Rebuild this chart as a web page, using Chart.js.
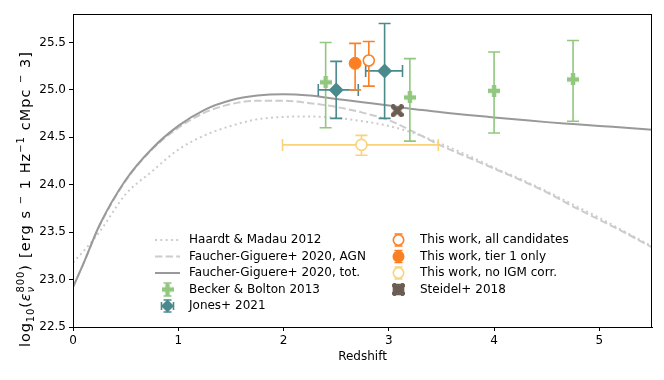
<!DOCTYPE html>
<html><head><meta charset="utf-8">
<script src="https://cdn.jsdelivr.net/npm/chart.js@4/dist/chart.umd.min.js"></script>
<style>html,body{margin:0;padding:0;background:#fff}#wrap{width:664px;height:380px;position:relative}</style>
</head><body><div id="wrap"><canvas id="c" width="664" height="380"></canvas></div>
<script>
// ---- data ----
const zModel = [0, 0.1, 0.25, 0.5, 0.75, 1.0, 1.25, 1.5, 1.75, 2.0, 2.25, 2.5, 2.75, 3.0, 3.25, 3.5, 3.75, 4.0, 4.25, 4.5, 4.75, 5.0, 5.25, 5.5];
const hm12  = [23.18, 23.30, 23.50, 23.90, 24.14, 24.37, 24.52, 24.62, 24.69, 24.715, 24.72, 24.705, 24.67, 24.62, 24.54, 24.43, 24.31, 24.18, 24.06, 23.93, 23.79, 23.65, 23.50, 23.35];
const fgAgn = [22.92, 23.17, 23.56, 24.04, 24.37, 24.60, 24.76, 24.85, 24.885, 24.885, 24.86, 24.82, 24.76, 24.68, 24.55, 24.41, 24.29, 24.17, 24.05, 23.92, 23.77, 23.63, 23.49, 23.34];
const fgTot = [22.92, 23.17, 23.57, 24.05, 24.38, 24.62, 24.79, 24.89, 24.94, 24.955, 24.94, 24.905, 24.87, 24.835, 24.795, 24.765, 24.735, 24.71, 24.685, 24.66, 24.64, 24.62, 24.60, 24.58];

const beckerZ   = [2.4, 3.2, 4.0, 4.75];
const beckerVal = [25.08, 24.92, 24.99, 25.11];
const beckerLo  = [24.60, 24.46, 24.545, 24.67];
const beckerHi  = [25.50, 25.33, 25.40, 25.52];

const jonesZ    = [2.5, 2.96];
const jonesZLo  = [2.33, 2.78];
const jonesZHi  = [2.71, 3.13];
const jonesVal  = [25.0, 25.2];
const jonesLo   = [24.70, 24.70];
const jonesHi   = [25.30, 25.70];

const allZ   = [2.81];
const allVal = [25.31];
const allLo  = [25.04];
const allHi  = [25.51];

const tier1Z   = [2.68];
const tier1Val = [25.28];
const tier1Lo  = [25.00];
const tier1Hi  = [25.49];

const noIgmZ   = [2.74];
const noIgmZLo = [1.99];
const noIgmZHi = [3.47];
const noIgmVal = [24.42];
const noIgmLo  = [24.31];
const noIgmHi  = [24.52];

const steidelZ   = [3.08];
const steidelVal = [24.78];

const xTicks = [0, 1, 2, 3, 4, 5];
const yTicks = [22.5, 23.0, 23.5, 24.0, 24.5, 25.0, 25.5];

// ---- styles ----
const FONT = '"DejaVu Sans", "Liberation Sans", sans-serif';
const FS = 12;
const C_GREEN = '#91c77f', C_TEAL = '#4a8a8d', C_ORANGE = '#fb8023', C_YELLOW = '#f9d27a', C_BROWN = '#6b5d52';
const C_DARK = '#999999', C_LIGHT = '#cccccc';

function plusMarker(color, size, thick) {
  const c = document.createElement('canvas'); c.width = size; c.height = size;
  const g = c.getContext('2d'); g.fillStyle = color;
  const a = (size - thick) / 2;
  g.fillRect(a, 0, thick, size); g.fillRect(0, a, size, thick);
  return c;
}
function xMarker(color, size, thick) {
  const c = document.createElement('canvas'); c.width = size; c.height = size;
  const g = c.getContext('2d'); g.fillStyle = color;
  g.translate(size / 2, size / 2); g.rotate(Math.PI / 4);
  const L = size * 0.62, t = thick / 2;
  g.fillRect(-L, -t, 2 * L, thick); g.fillRect(-t, -L, thick, 2 * L);
  return c;
}
const mPlus = plusMarker(C_GREEN, 12, 4.4);
const mX = xMarker(C_BROWN, 13, 4.8);

const pts = (xs, ys) => xs.map((x, i) => ({ x: x, y: ys[i] }));

const datasets = [
  { label: 'Haardt & Madau 2012', data: pts(zModel, hm12), showLine: true, pointRadius: 0, borderColor: C_LIGHT, borderWidth: 2, borderDash: [2, 3.3], cubicInterpolationMode: 'monotone' },
  { label: 'Faucher-Giguere+ 2020, AGN', data: pts(zModel, fgAgn), showLine: true, pointRadius: 0, borderColor: C_LIGHT, borderWidth: 2, borderDash: [7.4, 3.2], cubicInterpolationMode: 'monotone' },
  { label: 'Faucher-Giguere+ 2020, tot.', data: pts(zModel, fgTot), showLine: true, pointRadius: 0, borderColor: C_DARK, borderWidth: 2, cubicInterpolationMode: 'monotone' },
  { label: 'Becker & Bolton 2013', data: pts(beckerZ, beckerVal), pointStyle: mPlus, pointRadius: 6, err: { lo: beckerLo, hi: beckerHi, color: C_GREEN } },
  { label: 'Jones+ 2021', data: pts(jonesZ, jonesVal), pointStyle: 'rectRot', pointRadius: 7.5, backgroundColor: C_TEAL, borderColor: C_TEAL, borderWidth: 0, err: { lo: jonesLo, hi: jonesHi, xlo: jonesZLo, xhi: jonesZHi, color: C_TEAL } },
  { label: 'This work, tier 1 only', data: pts(tier1Z, tier1Val), pointStyle: 'circle', pointRadius: 6, backgroundColor: C_ORANGE, borderColor: C_ORANGE, borderWidth: 1, err: { lo: tier1Lo, hi: tier1Hi, color: C_ORANGE } },
  { label: 'This work, all candidates', data: pts(allZ, allVal), pointStyle: 'circle', pointRadius: 5.5, backgroundColor: '#ffffff', borderColor: C_ORANGE, borderWidth: 1.6, err: { lo: allLo, hi: allHi, color: C_ORANGE } },
  { label: 'This work, no IGM corr.', data: pts(noIgmZ, noIgmVal), pointStyle: 'circle', pointRadius: 5.5, backgroundColor: '#ffffff', borderColor: C_YELLOW, borderWidth: 1.6, err: { lo: noIgmLo, hi: noIgmHi, xlo: noIgmZLo, xhi: noIgmZHi, color: C_YELLOW } },
  { label: 'Steidel+ 2018', data: pts(steidelZ, steidelVal), pointStyle: mX, pointRadius: 7 }
];
datasets.forEach((d, i) => { d.order = datasets.length - i; });

const errPlugin = {
  id: 'errbars',
  beforeDatasetDraw(chart, args) {
    const ds = chart.data.datasets[args.index];
    if (!ds.err) return;
    const e = ds.err, xs = chart.scales.x, ys = chart.scales.y, ctx = chart.ctx;
    ctx.save();
    ctx.strokeStyle = e.color; ctx.lineWidth = 1.6; ctx.lineCap = 'butt';
    const cap = 6;
    ds.data.forEach((p, i) => {
      const px = xs.getPixelForValue(p.x), py = ys.getPixelForValue(p.y);
      ctx.beginPath();
      if (e.lo) {
        const y1 = ys.getPixelForValue(e.lo[i]), y2 = ys.getPixelForValue(e.hi[i]);
        ctx.moveTo(px, y1); ctx.lineTo(px, y2);
        ctx.moveTo(px - cap, y1); ctx.lineTo(px + cap, y1);
        ctx.moveTo(px - cap, y2); ctx.lineTo(px + cap, y2);
      }
      if (e.xlo) {
        const x1 = xs.getPixelForValue(e.xlo[i]), x2 = xs.getPixelForValue(e.xhi[i]);
        ctx.moveTo(x1, py); ctx.lineTo(x2, py);
        ctx.moveTo(x1, py - cap); ctx.lineTo(x1, py + cap);
        ctx.moveTo(x2, py - cap); ctx.lineTo(x2, py + cap);
      }
      ctx.stroke();
    });
    ctx.restore();
  }
};

function legendErr(ctx, x, y, color, hx, vy) {
  ctx.save(); ctx.strokeStyle = color; ctx.lineWidth = 1.6;
  ctx.beginPath();
  if (vy) { ctx.moveTo(x, y - vy); ctx.lineTo(x, y + vy); ctx.moveTo(x - 4, y - vy); ctx.lineTo(x + 4, y - vy); ctx.moveTo(x - 4, y + vy); ctx.lineTo(x + 4, y + vy); }
  if (hx) { ctx.moveTo(x - hx, y); ctx.lineTo(x + hx, y); ctx.moveTo(x - hx, y - 4); ctx.lineTo(x - hx, y + 4); ctx.moveTo(x + hx, y - 4); ctx.lineTo(x + hx, y + 4); }
  ctx.stroke(); ctx.restore();
}

// draw [text, size, dy, italic, stacked] pieces between start and end, with uniform character tracking
function drawPieces(ctx, pieces, start, end) {
  const glyphs = [];
  pieces.forEach(p => {
    const font = (p[3] ? 'italic ' : '') + p[1] + 'px ' + FONT;
    ctx.font = font;
    if (p[4]) { glyphs.push({ t: p[0], font: font, dy: p[2], w: 0, stacked: true, pw: ctx.measureText(p[0]).width }); return; }
    for (const ch of p[0]) glyphs.push({ t: ch, font: font, dy: p[2], w: ctx.measureText(ch).width });
  });
  const real = glyphs.filter(g => !g.stacked);
  const total = real.reduce((a, g) => a + g.w, 0);
  const extra = real.length > 1 ? Math.max(0, (end - start - total) / (real.length - 1)) : 0;
  let x = start, groupStart = start, lastFont = null;
  glyphs.forEach(g => {
    ctx.font = g.font;
    if (g.stacked) { ctx.fillText(g.t, groupStart, g.dy); return; }
    if (g.font !== lastFont) { groupStart = x; lastFont = g.font; }
    ctx.fillText(g.t, x, g.dy);
    x += g.w + extra;
  });
}

const decoPlugin = {
  id: 'deco',
  afterDraw(chart) {
    const ctx = chart.ctx, a = chart.chartArea;
    ctx.save();
    ctx.strokeStyle = '#000'; ctx.lineWidth = 1;
    ctx.strokeRect(Math.round(a.left) + 0.5, Math.round(a.top) + 0.5, Math.round(a.right - a.left) - 1, Math.round(a.bottom - a.top));
    // legend
    ctx.font = FS + 'px ' + FONT; ctx.fillStyle = '#000'; ctx.textBaseline = 'middle'; ctx.textAlign = 'left';
    const rows = [240, 256.5, 273, 289.5, 306];
    const hx0 = 155, hx1 = 180, tx = 189;
    const lines = [[C_LIGHT, [2, 3.3]], [C_LIGHT, [7.4, 3.2]], [C_DARK, []]];
    lines.forEach((l, i) => {
      ctx.save(); ctx.strokeStyle = l[0]; ctx.lineWidth = 2; ctx.setLineDash(l[1]);
      ctx.beginPath(); ctx.moveTo(hx0, rows[i]); ctx.lineTo(hx1, rows[i]); ctx.stroke(); ctx.restore();
      ctx.fillText(datasets[i].label, tx, rows[i]);
    });
    const mx = 167.5;
    legendErr(ctx, mx, rows[3], C_GREEN, 0, 6.5);
    ctx.drawImage(mPlus, mx - 6, rows[3] - 6);
    ctx.fillText(datasets[3].label, tx, rows[3]);
    legendErr(ctx, mx, rows[4], C_TEAL, 6, 6);
    ctx.save(); ctx.fillStyle = C_TEAL; ctx.beginPath();
    ctx.moveTo(mx, rows[4] - 6.5); ctx.lineTo(mx + 6.5, rows[4]); ctx.lineTo(mx, rows[4] + 6.5); ctx.lineTo(mx - 6.5, rows[4]); ctx.closePath(); ctx.fill(); ctx.restore();
    ctx.fillText(datasets[4].label, tx, rows[4]);
    const rx = 398.5, rtx = 420;
    const circ = (y, col, fill) => {
      legendErr(ctx, rx, y, col, 0, 6);
      ctx.save(); ctx.beginPath(); ctx.arc(rx, y, 5.2, 0, Math.PI * 2);
      ctx.fillStyle = fill; ctx.fill(); ctx.strokeStyle = col; ctx.lineWidth = 1.6; ctx.stroke(); ctx.restore();
    };
    circ(rows[0], C_ORANGE, '#fff'); ctx.fillText(datasets[6].label, rtx, rows[0]);
    circ(rows[1], C_ORANGE, C_ORANGE); ctx.fillText(datasets[5].label, rtx, rows[1]);
    circ(rows[2], C_YELLOW, '#fff'); ctx.fillText(datasets[7].label, rtx, rows[2]);
    legendErr(ctx, rx, rows[3], C_BROWN, 5, 5);
    ctx.drawImage(mX, rx - 6.5, rows[3] - 6.5);
    ctx.fillText(datasets[8].label, rtx, rows[3]);

    // y-axis title with sub/superscripts (rotated)
    ctx.save();
    ctx.translate(30, 347); ctx.rotate(-Math.PI / 2);
    ctx.textBaseline = 'alphabetic'; ctx.fillStyle = '#000';
    const N = 14.5, S = 10;
    drawPieces(ctx, [['log', N, 0], ['10', S, 3.5], ['(', N, 0], ['\u03b5', N, 0, true], ['800', S, -6.5], ['\u03bd', S, 3.5, true, true], [')', N, 0]], 0, 82);
    drawPieces(ctx, [['[erg s ', N, 0], ['\u2212', S, -6.5], [' 1 Hz', N, 0], ['\u22121', S, -6.5], [' cMpc ', N, 0], ['\u2212', S, -6.5], [' 3]', N, 0]], 89, 295);
    ctx.restore();
    ctx.restore();
  }
};

new Chart(document.getElementById('c'), {
  type: 'scatter',
  data: { datasets: datasets },
  options: {
    responsive: false, animation: false, devicePixelRatio: 1,
    layout: { padding: { left: 0, top: 14, right: 12, bottom: 0 } },
    plugins: { legend: { display: false }, tooltip: { enabled: false } },
    scales: {
      x: {
        type: 'linear', min: 0, max: 5.5,
        afterBuildTicks: s => { s.ticks = xTicks.map(v => ({ value: v })); },
        afterFit: s => { s.height = 53; },
        grid: { display: true, drawOnChartArea: false, drawTicks: true, tickLength: 4, color: '#000', lineWidth: 1 },
        border: { display: true, color: '#000', width: 1 },
        ticks: { color: '#000', font: { family: FONT, size: FS }, padding: 3, maxRotation: 0, callback: v => String(v) },
        title: { display: true, text: 'Redshift', color: '#000', font: { family: FONT, size: FS }, padding: { top: 2, bottom: 16 } }
      },
      y: {
        type: 'linear', min: 22.5, max: 25.8,
        afterBuildTicks: s => { s.ticks = yTicks.map(v => ({ value: v })); },
        afterFit: s => { s.width = 73; },
        grid: { display: true, drawOnChartArea: false, drawTicks: true, tickLength: 4, color: '#000', lineWidth: 1 },
        border: { display: true, color: '#000', width: 1 },
        ticks: { color: '#000', font: { family: FONT, size: FS }, padding: 3, callback: v => Number(v).toFixed(1) }
      }
    }
  },
  plugins: [errPlugin, decoPlugin]
});
</script></body></html>
